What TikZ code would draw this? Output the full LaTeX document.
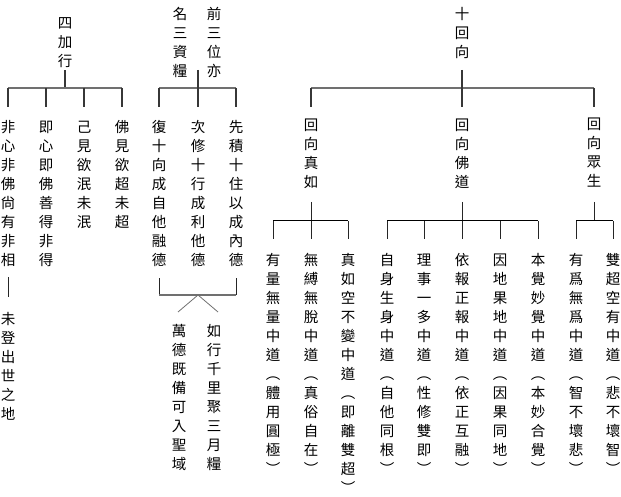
\documentclass[tikz,border=0pt]{standalone}
\usepackage{fontspec}
\newfontfamily\cjk{Noto Sans CJK TC}
\usetikzlibrary{calc}
\definecolor{barc}{RGB}{112,112,112}
\definecolor{vlc}{RGB}{55,55,55}
\def\vcZ{VCZ}
\newcommand\vc[1]{\vbox{\offinterlineskip\vcA#1\vcZ}}
\def\vcA#1{\ifx#1\vcZ\else\hbox to 19pt{\hss\vrule height 15pt depth 4pt width 0pt\relax #1\hss}\expandafter\vcA\fi}
\tikzset{
  col/.style={inner sep=0pt, outer sep=0pt, anchor=north, font=\cjk\fontsize{14.5pt}{19pt}\selectfont},
  hb/.style={draw=barc, line width=2pt},
  vl/.style={draw=vlc, line width=1.2pt},
  lb/.style={draw=black, line width=1pt},
  vs/.style={draw=black!85, line width=1pt},
  legline/.style={draw=barc, line width=0.8pt}
}
\begin{document}
\begin{tikzpicture}[x=1pt,y=-1pt]
\useasboundingbox (0,0) rectangle (621,497);
% ---------- left group ----------
\node[col] (L0) at (65,13.5) {\vc{四加行}};
\node[col] (L1) at (8,117.5) {\vc{非心非佛尙有非相}};
\node[col] (L2) at (46,117.5) {\vc{即心即佛善得非得}};
\node[col] (L3) at (84,117.5) {\vc{己見欲泯未泯}};
\node[col] (L4) at (122,117.5) {\vc{佛見欲超未超}};
\node[col] (L5) at (8,309) {\vc{未登出世之地}};
\coordinate (Lbar) at (65,88);
\draw[vl] (L0.south) -- (L0.south |- Lbar);
\draw[hb] (L1.north |- Lbar) -- (L4.north |- Lbar);
\foreach \n in {L1,L2,L3,L4} \draw[vl, shorten >=10.5pt] (\n.north |- Lbar) -- (\n.north);
\draw[vs, shorten <=7.5pt, shorten >=12pt] (L1.south) -- (L5.north);
% ---------- middle group ----------
\node[col] (M0a) at (214,4.5) {\vc{前三位亦}};
\node[col] (M0b) at (180,4.5) {\vc{名三資糧}};
\node[col] (M1) at (159,117.5) {\vc{復十向成自他融德}};
\node[col] (M2) at (198,117.5) {\vc{次修十行成利他德}};
\node[col] (M3) at (236,117.5) {\vc{先積十住以成內德}};
\node[col] (M4) at (179,321.5) {\vc{萬德既備可入聖域}};
\node[col] (M5) at (214,321.5) {\vc{如行千里聚三月糧}};
\coordinate (Mtop) at (198,70);
\coordinate (Mbar) at (198,88);
\draw[hb] (M1.north |- Mbar) -- (M3.north |- Mbar);
\draw[vl, shorten >=10.5pt] (Mtop) -- (M2.north);
\foreach \n in {M1,M3} \draw[vl, shorten >=10.5pt] (\n.north |- Mbar) -- (\n.north);
\coordinate (Mbr) at (198,295);
\draw[vs] ($(M1.south)+(0,8.5)$) -- (M1.south |- Mbr);
\draw[vs] ($(M3.south)+(0,8.5)$) -- (M3.south |- Mbr);
\draw[hb] (M1.south |- Mbr) -- (M3.south |- Mbr);
\draw[legline] ($(M4.north)+(-1,-9.5)$) -- (Mbr) -- ($(M5.north)+(4,-9.5)$);
% ---------- right group ----------
\node[col] (R0) at (462,4.5) {\vc{十回向}};
\node[col] (R1) at (311,115.5) {\vc{回向真如}};
\node[col] (R2) at (462,115.5) {\vc{回向佛道}};
\node[col] (R3) at (594,114.5) {\vc{回向眾生}};
\coordinate (Rbar) at (462,88);
\draw[hb] (R1.north |- Rbar) -- (R3.north |- Rbar);
\draw[vl, shorten <=8.5pt, shorten >=8.5pt] (R0.south) -- (R2.north);
\draw[vl, shorten >=8.5pt] (R1.north |- Rbar) -- (R1.north);
\draw[vl, shorten >=7.5pt] (R3.north |- Rbar) -- (R3.north);
% leaves
\node[col] (a1) at (273,250.5) {\vc{有量無量中道︵體用圓極︶}};
\node[col] (a2) at (311,250.5) {\vc{無縛無脫中道︵真俗自在︶}};
\node[col] (a3) at (348,250.5) {\vc{真如空不變中道︵即離雙超︶}};
\node[col] (b1) at (387,250.5) {\vc{自身生身中道︵自他同根︶}};
\node[col] (b2) at (424,250.5) {\vc{理事一多中道︵性修雙即︶}};
\node[col] (b3) at (462,250.5) {\vc{依報正報中道︵依正互融︶}};
\node[col] (b4) at (500,250.5) {\vc{因地果地中道︵因果同地︶}};
\node[col] (b5) at (538,250.5) {\vc{本覺妙覺中道︵本妙合覺︶}};
\node[col] (c1) at (576,250.5) {\vc{有爲無爲中道︵智不壞悲︶}};
\node[col] (c2) at (613,250.5) {\vc{雙超空有中道︵悲不壞智︶}};
\coordinate (R1bar) at (311,221);
\coordinate (R2bar) at (462,221);
\coordinate (R3bar) at (594,221);
\draw[vs, shorten <=10.5pt, shorten >=11.5pt] (R1.south) -- (a2.north);
\draw[lb] (a1.north |- R1bar) -- (a3.north |- R1bar);
\foreach \n in {a1,a3} \draw[vs, shorten >=11.5pt] (\n.north |- R1bar) -- (\n.north);
\draw[vs, shorten <=10.5pt, shorten >=11.5pt] (R2.south) -- (b3.north);
\draw[lb] (b1.north |- R2bar) -- (b5.north |- R2bar);
\foreach \n in {b1,b2,b4,b5} \draw[vs, shorten >=11.5pt] (\n.north |- R2bar) -- (\n.north);
\draw[vs, shorten <=11.5pt] (R3.south) -- (R3.south |- R3bar);
\draw[lb] (c1.north |- R3bar) -- (c2.north |- R3bar);
\foreach \n in {c1,c2} \draw[vs, shorten >=11.5pt] (\n.north |- R3bar) -- (\n.north);
\end{tikzpicture}
\end{document}
